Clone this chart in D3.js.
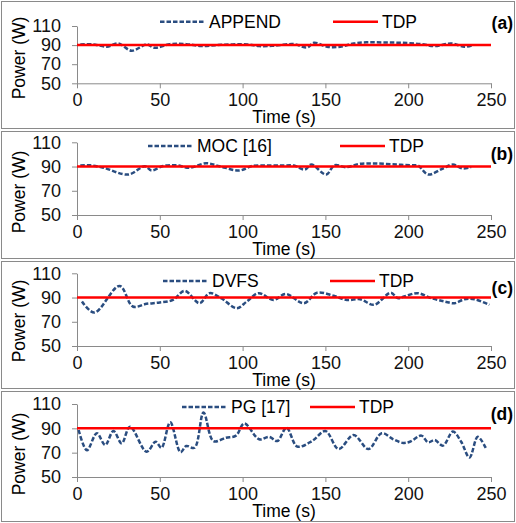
<!DOCTYPE html>
<html>
<head>
<meta charset="utf-8">
<script src="https://cdn.jsdelivr.net/npm/d3@7"></script>
<style>
  body { margin: 0; background: #fff; }
  svg { display: block; font-family: "Liberation Sans", Arial, sans-serif; }
</style>
</head>
<body>
<svg width="516" height="523"></svg>
<script>
const timeTicks = [0, 50, 100, 150, 200, 250];
const powerTicks = [50, 70, 90, 110];
const tdp = 90;

const appendTime = [2, 10, 18, 25, 33, 42, 47, 56, 66, 75, 87, 103, 110, 120, 131, 139, 143, 151, 159, 167, 175, 185, 196, 208, 216, 226, 234, 239];
const appendPower = [90.7, 90.7, 88.3, 91.7, 84.1, 90.7, 87.2, 91, 91, 89, 90.3, 90.7, 89, 89.5, 91, 87.5, 92.4, 88.3, 88.3, 91.7, 93, 92.8, 92.4, 91, 89, 91.7, 88.3, 90];

const mocTime = [2, 8, 16, 31, 41, 45, 52, 60, 68, 78, 86, 98, 106, 116, 124, 131, 137.5, 141.5, 150.5, 155.5, 162.5, 170.5, 180.5, 193, 203, 206, 212, 221, 227, 233, 238];
const mocPower = [90.8, 91, 89, 83.4, 90.3, 86.7, 90.5, 91, 89, 92.7, 90.3, 86.7, 90.5, 90.8, 90.8, 90.8, 87.5, 91.6, 83.4, 91, 89.5, 92.2, 92.5, 91.6, 91, 90.8, 83.4, 88.4, 91.6, 88.4, 89.7];

const dvfsTime = [3, 10.5, 25.7, 33.7, 42, 50, 58, 65, 74, 80, 87, 96.5, 102.5, 109.6, 118.7, 126, 137, 145, 155, 163, 171, 179.4, 189.5, 193.6, 197.6, 205.7, 213.8, 222, 228, 234, 240, 249];
const dvfsPower = [86.7, 77.6, 99.6, 82.6, 84.8, 85.9, 88, 95.5, 85.3, 93.6, 89.5, 81.2, 86.7, 93.6, 88, 93, 85.3, 94, 91.4, 88, 88.6, 84, 94, 89.5, 90.8, 93.6, 89.5, 86.7, 85.3, 88.6, 88.6, 84];

const pgTime = [1, 6, 12, 17, 22, 27, 32, 42, 47.5, 51, 56.3, 62.5, 66, 71, 76.4, 82.4, 90, 96, 101, 110, 116, 121, 126.5, 133, 142, 150, 158, 167, 176, 184, 191, 197, 201, 208, 212, 216, 221, 227, 232, 237, 242, 247];
const pgPower = [88.6, 72, 86, 76.3, 87.8, 77.7, 91.4, 70.8, 79, 74, 95, 70.4, 75.5, 74, 103, 79.6, 82.3, 84, 94, 81, 83, 79.6, 90.5, 75, 79.6, 87.8, 73, 84.5, 73, 86, 81, 78, 79, 84, 78.5, 80.4, 75.8, 87.3, 79, 66, 83, 73.5];

const panels = [
  {tag: "(a)", name: "APPEND", time: appendTime, power: appendPower,
   box: [1, 128], yRange: [83.3, 26], yLabel: 58, legY: 21.7, leg1: 160, leg2: 333, tagY: 22.5},
  {tag: "(b)", name: "MOC [16]", time: mocTime, power: mocPower,
   box: [131, 258], yRange: [215, 142.3], yLabel: 192, legY: 146, leg1: 148, leg2: 340, tagY: 154},
  {tag: "(c)", name: "DVFS", time: dvfsTime, power: dvfsPower,
   box: [261, 388], yRange: [346, 273.3], yLabel: 321, legY: 281, leg1: 163, leg2: 330, tagY: 287.5},
  {tag: "(d)", name: "PG [17]", time: pgTime, power: pgPower,
   box: [391, 521], yRange: [477, 404], yLabel: 454, legY: 407, leg1: 182, leg2: 310, tagY: 414}
];

const svg = d3.select("svg");
const blue = "#2a4d80";
const red = "#ff0000";
const grey = "#8a8a8a";
const dash = "4.5,2";
const fs = "17.5px";

panels.forEach((p) => {
  const g = svg.append("g");

  g.append("rect")
    .attr("x", 1.5).attr("y", p.box[0] + 0.5)
    .attr("width", 513).attr("height", p.box[1] - p.box[0])
    .attr("fill", "none").attr("stroke", grey);

  const x = d3.scaleLinear().domain([0, 250]).range([77, 491]);
  const y = d3.scaleLinear().domain([50, 110]).range(p.yRange);

  const xAxis = g.append("g")
    .attr("transform", `translate(0,${p.yRange[0]})`)
    .call(d3.axisBottom(x).tickValues(timeTicks).tickSize(5).tickSizeOuter(0).tickPadding(5));
  const yAxis = g.append("g")
    .attr("transform", "translate(77,0)")
    .call(d3.axisLeft(y).tickValues(powerTicks).tickSize(5).tickSizeOuter(0).tickPadding(11));

  [xAxis, yAxis].forEach((a) => {
    a.selectAll("path, line").attr("stroke", grey);
    a.selectAll("text").attr("fill", "#111").style("font-size", "18px")
      .style("font-family", "'Liberation Sans', Arial, sans-serif");
  });

  g.append("text")
    .attr("transform", `translate(25,${p.yLabel}) rotate(-90)`)
    .attr("text-anchor", "middle")
    .style("font-size", fs)
    .text("Power (W)");

  g.append("text")
    .attr("x", 284).attr("y", p.yRange[0] + 39.5)
    .attr("text-anchor", "middle")
    .style("font-size", fs)
    .text("Time (s)");

  const line = d3.line()
    .x((d) => x(d.t))
    .y((d) => y(d.w))
    .curve(d3.curveCatmullRom.alpha(0.5));

  const series = p.time.map((t, i) => ({t, w: p.power[i]}));

  g.append("path")
    .datum(series)
    .attr("d", line)
    .attr("fill", "none")
    .attr("stroke", blue)
    .attr("stroke-width", 2.5)
    .attr("stroke-dasharray", dash);

  g.append("path")
    .datum([{t: 0, w: tdp}, {t: 250, w: tdp}])
    .attr("d", d3.line().x((d) => x(d.t)).y((d) => y(d.w)))
    .attr("stroke", red)
    .attr("stroke-width", 2.5);

  // legend
  g.append("line")
    .attr("x1", p.leg1).attr("x2", p.leg1 + 44)
    .attr("y1", p.legY).attr("y2", p.legY)
    .attr("stroke", blue).attr("stroke-width", 2.5).attr("stroke-dasharray", dash);
  g.append("text")
    .attr("x", p.leg1 + 49).attr("y", p.legY)
    .attr("dy", "0.35em")
    .style("font-size", fs)
    .text(p.name);

  g.append("line")
    .attr("x1", p.leg2).attr("x2", p.leg2 + 45)
    .attr("y1", p.legY).attr("y2", p.legY)
    .attr("stroke", red).attr("stroke-width", 2.5);
  g.append("text")
    .attr("x", p.leg2 + 49).attr("y", p.legY)
    .attr("dy", "0.35em")
    .style("font-size", fs)
    .text("TDP");

  g.append("text")
    .attr("x", 513).attr("y", p.tagY)
    .attr("dy", "0.35em")
    .attr("text-anchor", "end")
    .style("font-size", fs)
    .style("font-weight", "bold")
    .text(p.tag);
});
</script>
</body>
</html>
